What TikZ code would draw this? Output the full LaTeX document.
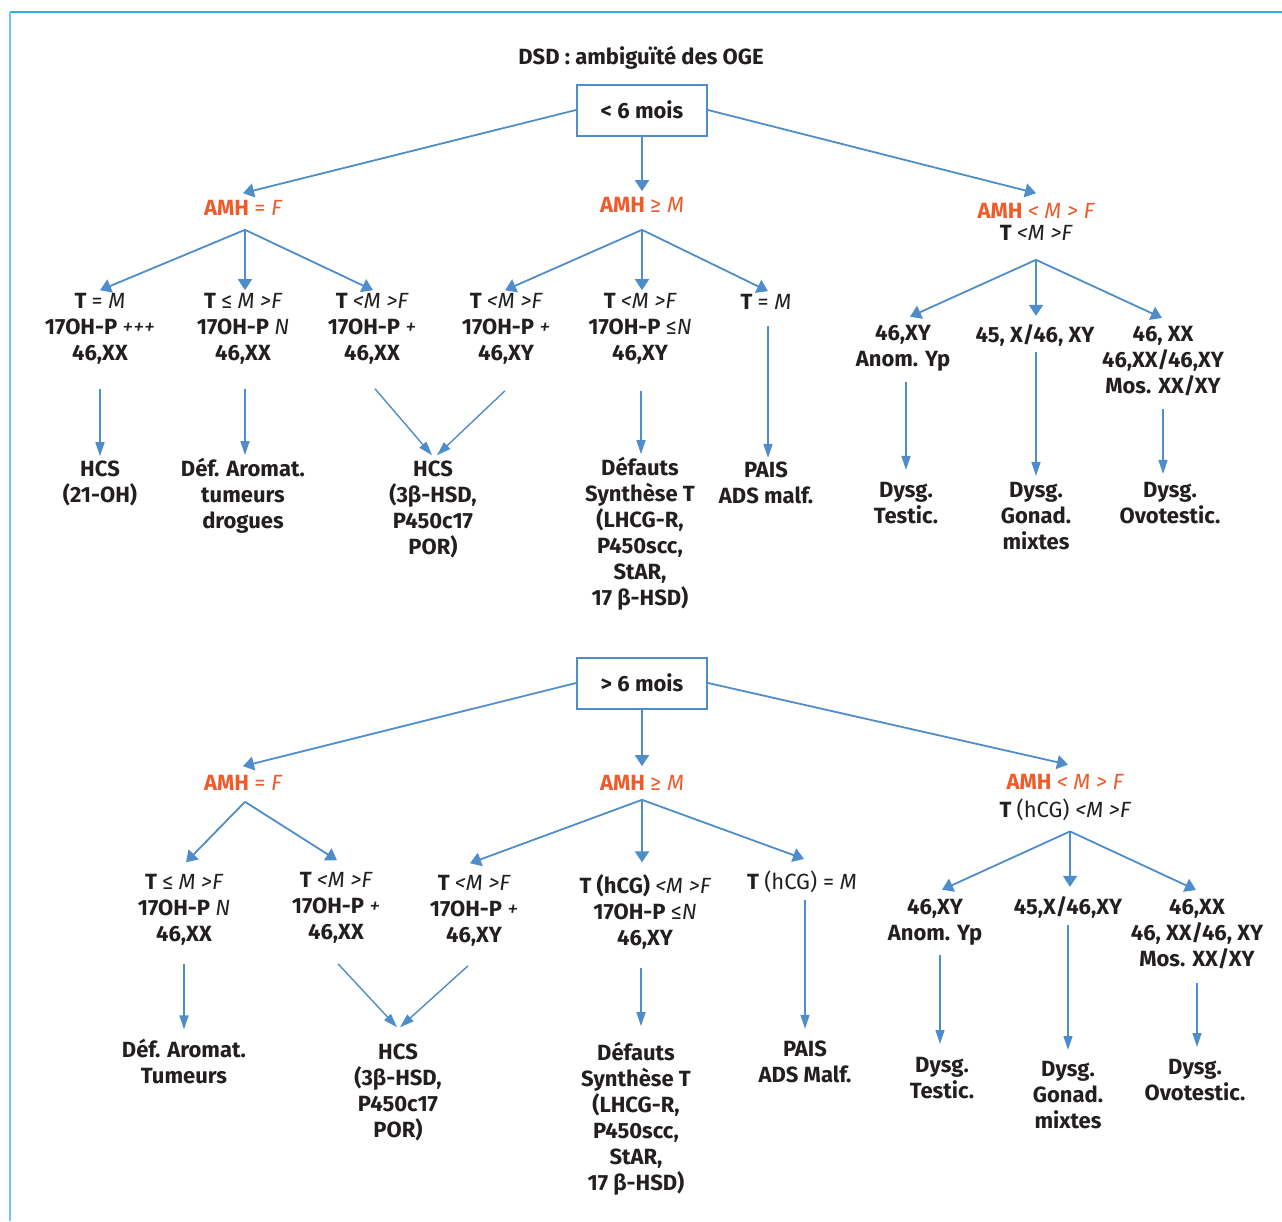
\documentclass[tikz,border=0pt]{standalone}
\usepackage{fontspec}
\setmainfont{Fira Sans}
\usetikzlibrary{arrows.meta}
\definecolor{arrowblue}{HTML}{4F8DCA}
\definecolor{amhred}{HTML}{EF5B2B}
\definecolor{framecyan}{HTML}{2BB0E4}
\definecolor{txt}{HTML}{231F20}
\newcommand\ital[1]{{\mdseries\itshape #1}}
\newcommand\regu[1]{{\mdseries #1}}
\begin{document}
\begin{tikzpicture}[x=1pt,y=-1pt,
  every node/.style={font=\fontsize{22}{26}\selectfont\bfseries, text=txt, align=center, inner sep=0pt},
  amh/.style={text=amhred},
  agebox/.style={draw=arrowblue, line width=2pt, minimum width=130pt, minimum height=51pt},
  arr/.style={draw=arrowblue, line width=1.8pt, -{Triangle[width=14pt,length=11pt]}},
  arrlow/.style={draw=arrowblue, line width=1.4pt, -{Triangle[width=9pt,length=14pt]}}]
\useasboundingbox (0,0) rectangle (1282,1221);
\draw[framecyan, line width=2pt] (10,12) -- (1282,12);
\draw[framecyan!70, line width=1.2pt] (10,12) -- (10,1221);
\node (title) at (641,58) {DSD : ambiguïté des OGE};

% moins de 6 mois
\node[agebox] (box1) at (642,110) {< 6 mois};
\node[amh] (amhF) at (243,208) {AMH \regu{= \ital{F}}};
\node[amh] (amhM) at (642,205) {AMH \regu{≥ \ital{M}}};
\node (amhR) at (1036,222) {\textcolor{amhred}{AMH \regu{\ital{< M > F}}}\\[-4pt] T \ital{<M >F}};
\node (n1) at (100,329) {T \regu{= \ital{M}}\\ 17OH-P \ital{+++}\\ 46,XX};
\node (n2) at (243,329) {T \regu{≤} \ital{M >F}\\ 17OH-P \ital{N}\\ 46,XX};
\node (n3) at (372,329) {T \ital{<M >F}\\ 17OH-P \ital{+}\\ 46,XX};
\node (n4) at (506,329) {T \ital{<M >F}\\ 17OH-P \ital{+}\\ 46,XY};
\node (n5) at (640,329) {T \ital{<M >F}\\ 17OH-P \regu{≤}\ital{N}\\ 46,XY};
\node (n6) at (766,302) {T \regu{= \ital{M}}};
\node (r1) at (903,348) {46,XY\\ Anom. Yp};
\node (r2) at (1035,335) {45, X/46, XY};
\node (r3) at (1163,361) {46, XX\\ 46,XX/46,XY\\ Mos. XX/XY};
\node (h1) at (100,483) {HCS\\ (21-OH)};
\node (h2) at (243,496) {Déf. Aromat.\\ tumeurs\\ drogues};
\node (h3) at (433,509) {HCS\\ (3β-HSD,\\ P450c17\\ POR)};
\node (h5) at (640,534) {Défauts\\ Synthèse T\\ (LHCG-R,\\ P450scc,\\ StAR,\\ 17 β-HSD)};
\node (h6) at (766,483) {PAIS\\ ADS malf.};
\node (d1) at (906,503) {Dysg.\\ Testic.};
\node (d2) at (1036,516) {Dysg.\\ Gonad.\\ mixtes};
\node (d3) at (1170,503) {Dysg.\\ Ovotestic.};

\draw[arr] (box1.west) -- ([yshift=7pt]amhF.north);
\draw[arr] (box1.south) -- ([yshift=6pt]amhM.north);
\draw[arr] (box1.east) -- ([yshift=10pt]amhR.north);
\foreach \n/\dx in {n1/0,n2/2,n3/1}
  \draw[arr] ([xshift=2pt,yshift=-14pt]amhF.south) -- ([xshift=\dx pt,yshift=3pt]\n.north);
\foreach \n/\dx in {n4/-1,n5/2,n6/2}
  \draw[arr] ([yshift=-17pt]amhM.south) -- ([xshift=\dx pt,yshift=3pt]\n.north);
\foreach \n/\dx in {r1/7,r2/1,r3/-1}
  \draw[arr] ([yshift=-19pt]amhR.south) -- ([xshift=\dx pt,yshift=8pt]\n.north);
\draw[arrlow] ([yshift=-24pt]n1.south) -- ([yshift=4pt]h1.north);
\draw[arrlow] ([xshift=2pt,yshift=-24pt]n2.south) -- ([xshift=2pt,yshift=3pt]h2.north);
\draw[arrlow] ([xshift=3pt,yshift=-24pt]n3.south) -- ([xshift=-1pt,yshift=5pt]h3.north);
\draw[arrlow] ([xshift=-1pt,yshift=-26pt]n4.south) -- ([xshift=4pt,yshift=5pt]h3.north);
\draw[arrlow] ([xshift=1pt,yshift=-26pt]n5.south) -- ([xshift=1pt,yshift=3pt]h5.north);
\draw[arrlow] ([xshift=2pt,yshift=-16pt]n6.south) -- ([xshift=2pt,yshift=4pt]h6.north);
\draw[arrlow] ([xshift=3pt,yshift=-11pt]r1.south) -- ([yshift=12pt]d1.north);
\draw[arrlow] ([xshift=1pt,yshift=-6pt]r2.south) -- ([yshift=6pt]d2.north);
\draw[arrlow] ([yshift=-13pt]r3.south) -- ([xshift=-7pt,yshift=8pt]d3.north);

% plus de 6 mois
\node[agebox] (box2) at (642,683) {> 6 mois};
\node[amh] (bF) at (243,783) {AMH \regu{= \ital{F}}};
\node[amh] (bM) at (642,783) {AMH \regu{≥ \ital{M}}};
\node (bR) at (1065,797) {\textcolor{amhred}{AMH \regu{\ital{< M > F}}}\\[2pt] T \regu{(hCG) \ital{<M >F}}};
\node (m1) at (184,910) {T \regu{≤} \ital{M >F}\\ 17OH-P \ital{N}\\ 46,XX};
\node (m2) at (336,908) {T \ital{<M >F}\\ 17OH-P \ital{+}\\ 46,XX};
\node (m3) at (474,911) {T \ital{<M >F}\\ 17OH-P \ital{+}\\ 46,XY};
\node (m4) at (645,912) {T (hCG) \ital{<M >F}\\ 17OH-P \regu{≤}\ital{N}\\ 46,XY};
\node (m5) at (802,882) {T \regu{(hCG) = \ital{M}}};
\node (s1) at (935,922) {46,XY\\ Anom. Yp};
\node (s2) at (1068,907) {45,X/46,XY};
\node (s3) at (1197,934) {46,XX\\ 46, XX/46, XY\\ Mos. XX/XY};
\node (k1) at (184,1061) {Déf. Aromat.\\ Tumeurs};
\node (k2) at (398,1092) {HCS\\ (3β-HSD,\\ P450c17\\ POR)};
\node (k3) at (636,1119) {Défauts\\ Synthèse T\\ (LHCG-R,\\ P450scc,\\ StAR,\\ 17 β-HSD)};
\node (k4) at (805,1062) {PAIS\\ ADS Malf.};
\node (t1) at (942,1078) {Dysg.\\ Testic.};
\node (t2) at (1068,1095) {Dysg.\\ Gonad.\\ mixtes};
\node (t3) at (1195,1080) {Dysg.\\ Ovotestic.};

\draw[arr] (box2.west) -- ([yshift=9pt]bF.north);
\draw[arr] (box2.south) -- ([yshift=9pt]bM.north);
\draw[arr] (box2.east) -- ([xshift=3pt,yshift=9pt]bR.north);
\foreach \n/\dx in {m1/2,m2/1}
  \draw[arr] ([xshift=2pt,yshift=-11pt]bF.south) -- ([xshift=\dx pt,yshift=12pt]\n.north);
\foreach \n/\dx in {m3/-4,m4/-3,m5/2}
  \draw[arr] ([yshift=-9pt]bM.south) -- ([xshift=\dx pt,yshift=12pt]\n.north);
\foreach \n/\dx in {s1/7,s2/2,s3/-1}
  \draw[arr] ([xshift=5pt,yshift=-11pt]bR.south) -- ([xshift=\dx pt,yshift=9pt]\n.north);
\draw[arrlow] ([yshift=-18pt]m1.south) -- ([yshift=9pt]k1.north);
\draw[arrlow] ([xshift=2pt,yshift=-20pt]m2.south) -- ([xshift=-1pt,yshift=16pt]k2.north);
\draw[arrlow] ([xshift=-6pt,yshift=-19pt]m3.south) -- ([xshift=2pt,yshift=16pt]k2.north);
\draw[arrlow] ([xshift=-4pt,yshift=-18pt]m4.south) -- ([xshift=5pt,yshift=16pt]k3.north);
\draw[arrlow] ([xshift=3pt,yshift=-7pt]m5.south) -- ([yshift=12pt]k4.north);
\draw[arrlow] ([xshift=5pt,yshift=-10pt]s1.south) -- ([xshift=-2pt,yshift=13pt]t1.north);
\draw[arrlow] ([yshift=-7pt]s2.south) -- ([yshift=11pt]t2.north);
\draw[arrlow] ([yshift=-14pt]s3.south) -- ([xshift=2pt,yshift=12pt]t3.north);
\end{tikzpicture}
\end{document}
